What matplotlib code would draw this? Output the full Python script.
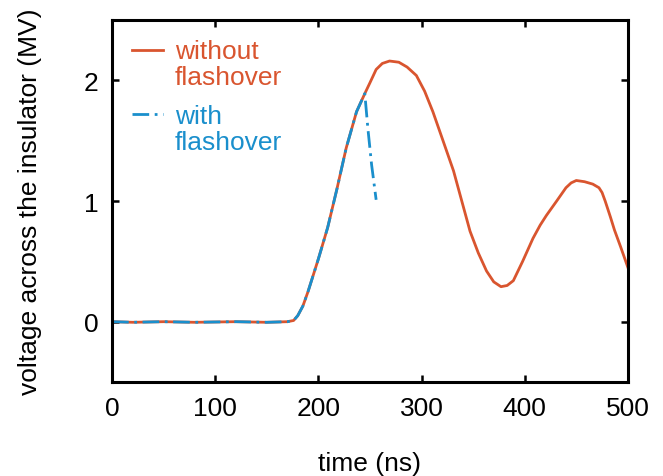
import matplotlib
matplotlib.use("Agg")
import matplotlib.pyplot as plt

# voltage across the insulator
t_without = [0, 20, 50, 80, 120, 150, 170, 176, 180, 185, 190, 200, 209, 218, 227, 237,
             245, 250, 256, 262, 269, 278, 286, 295, 303, 311, 320, 331, 339, 347, 355,
             363, 370, 377, 383, 389, 398, 408, 415, 421, 431, 440, 445, 450, 458, 466,
             472, 475, 478, 483, 487, 493, 500]
v_without = [0.0, -0.005, 0.0, -0.005, 0.0, -0.005, 0.0, 0.01, 0.05, 0.13, 0.25, 0.52,
             0.78, 1.1, 1.44, 1.74, 1.89, 1.98, 2.09, 2.14, 2.16, 2.15, 2.11, 2.04, 1.91,
             1.74, 1.52, 1.25, 1.0, 0.75, 0.57, 0.42, 0.33, 0.29, 0.3, 0.34, 0.5, 0.69,
             0.8, 0.88, 1.0, 1.11, 1.15, 1.17, 1.16, 1.14, 1.11, 1.07, 1.0, 0.87, 0.76,
             0.62, 0.45]

t_with = [0, 20, 50, 80, 120, 150, 170, 176, 180, 185, 190, 200, 209, 218, 227, 237,
          245, 248, 251.6, 256]
v_with = [0.0, -0.005, 0.0, -0.005, 0.0, -0.005, 0.0, 0.01, 0.05, 0.13, 0.25, 0.52,
          0.78, 1.1, 1.44, 1.74, 1.89, 1.6, 1.3, 1.01]

labels = ["without\nflashover", "with\nflashover"]

red = "#d9552f"
blue = "#1a8fcc"
blue_dash = (12, 4, 2, 4)

plt.rcParams['font.family'] = ['Liberation Sans', 'DejaVu Sans']
plt.rcParams['font.size'] = 19
plt.rcParams['lines.scale_dashes'] = False

fig, ax = plt.subplots(figsize=(6.63, 4.77), dpi=100)
fig.subplots_adjust(left=0.169, right=0.947, top=0.956, bottom=0.197)

ax.plot(t_without, v_without, color=red, lw=2.0)
ax.plot(t_with, v_with, color=blue, lw=2.0, dashes=blue_dash)

# legend drawn by hand: handle beside the first line of each label
ax.plot([0.039, 0.099], [0.917, 0.917], transform=ax.transAxes, color=red, lw=2.0)
ax.plot([0.039, 0.099], [0.740, 0.740], transform=ax.transAxes, color=blue, lw=2.0,
        dashes=blue_dash)
ax.text(0.122, 0.948, labels[0], transform=ax.transAxes, color=red, va='top',
        linespacing=1.1)
ax.text(0.122, 0.768, labels[1], transform=ax.transAxes, color=blue, va='top',
        linespacing=1.1)

ax.set_xlim(0, 500)
ax.set_ylim(-0.5, 2.5)
ax.set_xticks([0, 100, 200, 300, 400, 500])
ax.set_yticks([0, 1, 2])
ax.tick_params(direction='in', length=5, width=1.8, top=True, right=True, pad=10)
for s in ax.spines.values():
    s.set_linewidth(2.2)

ax.set_xlabel("time (ns)")
ax.set_ylabel("voltage across the insulator (MV)")
ax.xaxis.set_label_coords(0.5, -0.19)
ax.yaxis.set_label_coords(-0.136, 0.5)

plt.savefig("out.png", dpi=100)
